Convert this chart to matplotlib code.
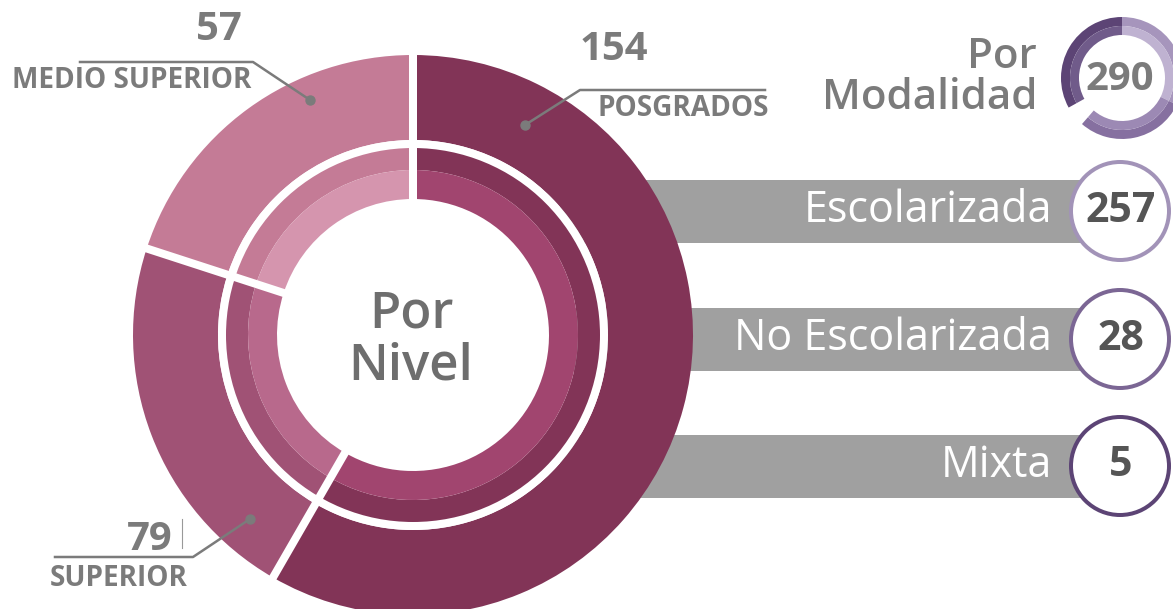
import matplotlib.pyplot as plt
from matplotlib.patches import Circle, Rectangle
import numpy as np

W, H = 1173, 609
plt.rcParams['font.family'] = ['Open Sans', 'DejaVu Sans']

# por nivel
niveles = ['POSGRADOS', 'SUPERIOR', 'MEDIO SUPERIOR']
alumnos = [154, 79, 57]
grados = [210, 78, 72]  # abertura de cada rebanada tal como se ve
color_fuera = ['#823457', '#a05275', '#c47b96']
color_dentro = ['#a1456f', '#b8698c', '#d595ae']

# por modalidad
modalidades = ['Escolarizada', 'No Escolarizada', 'Mixta']
cantidades = [257, 28, 5]
total = 290
color_mod = ['#a293b8', '#7b6694', '#5c4475']
anillo = [116, 105, 20, 119]
anillo_fuera = ['#a695bc', '#8670a0', 'none', '#5c4475']
anillo_dentro = ['#bfb2d1', '#9c89b4', 'none', '#705b8a']

GRIS = '#7b7b7b'


def Y(y):
    return H - y


def pt(px):
    return px * 0.72


def dona(vals, centro, r, ancho, colores):
    ax.pie(vals, center=centro, radius=r, startangle=90, counterclock=False,
           colors=colores, wedgeprops=dict(width=ancho, linewidth=0))


fig = plt.figure(figsize=(W / 100, H / 100), dpi=100)
ax = fig.add_axes([0, 0, 1, 1])

cx, cy = 413, Y(335)

# dona grande
dona(grados, (cx, cy), 280, 85, color_fuera)
dona(grados, (cx, cy), 189, 24, color_fuera)
dona(grados, (cx, cy), 165, 29, color_dentro)

# separadores blancos
ax.add_patch(Circle((cx, cy), 191, fill=False, ec='white', lw=pt(8), zorder=2))
bordes = 90 - np.cumsum([0] + grados[:-1])
for a in np.radians(bordes):
    ax.plot([cx + 130 * np.cos(a), cx + 290 * np.cos(a)],
            [cy + 130 * np.sin(a), cy + 290 * np.sin(a)],
            color='white', lw=pt(8), zorder=2, solid_capstyle='butt')

ax.text(cx - 2, Y(314), 'Por', ha='center', va='center', fontsize=pt(51),
        color='#6e6e6e', fontweight='semibold')
ax.text(cx - 2, Y(366), 'Nivel', ha='center', va='center', fontsize=pt(51),
        color='#6e6e6e', fontweight='semibold')

# etiquetas de la dona
lc = dict(color=GRIS, lw=pt(2.5), zorder=4)
ax.plot([80, 253, 310], [Y(62), Y(62), Y(100)], **lc)
ax.plot([310], [Y(100)], 'o', color=GRIS, ms=pt(9), zorder=4)
ax.text(219, Y(30), str(alumnos[2]), ha='center', va='center', fontsize=pt(40),
        color=GRIS, fontweight='bold')
ax.text(12, Y(81), niveles[2], ha='left', va='center', fontsize=pt(28),
        color=GRIS, fontweight='bold')

ax.plot([525, 580, 765], [Y(125), Y(90), Y(90)], **lc)
ax.plot([525], [Y(125)], 'o', color=GRIS, ms=pt(9), zorder=4)
ax.text(580, Y(50), str(alumnos[0]), ha='left', va='center', fontsize=pt(40),
        color=GRIS, fontweight='bold')
ax.text(598, Y(109), niveles[0], ha='left', va='center', fontsize=pt(28),
        color=GRIS, fontweight='bold')

ax.plot([250, 193, 55], [Y(519), Y(557), Y(557)], **lc)
ax.plot([250], [Y(519)], 'o', color=GRIS, ms=pt(9), zorder=4)
ax.text(172, Y(539), str(alumnos[1]), ha='right', va='center', fontsize=pt(40),
        color=GRIS, fontweight='bold')
ax.plot([182, 182], [Y(519), Y(548)], color='#999999', lw=0.8, zorder=4)
ax.text(50, Y(578), niveles[1], ha='left', va='center', fontsize=pt(28),
        color=GRIS, fontweight='bold')

# barras por modalidad
centros = [211, 339, 466]
for i, yc in enumerate(centros):
    ax.add_patch(Rectangle((560, Y(yc) - 31.5), 560, 63, fc='#a0a0a0',
                           ec='none', zorder=0))
    ax.add_patch(Circle((1120, Y(yc)), 49, fc='white', ec=color_mod[i],
                        lw=pt(4), zorder=3))
    ax.text(1052, Y(yc), modalidades[i], ha='right', va='center',
            fontsize=pt(43), color='white', zorder=4)
    ax.text(1121, Y(yc), str(cantidades[i]), ha='center', va='center',
            fontsize=pt(41), color='#555555', fontweight='bold', zorder=4)

# anillo del total
mx, my = 1122, Y(78)
dona(anillo, (mx, my), 61, 9, anillo_fuera)
dona(anillo, (mx, my), 52, 9, anillo_dentro)
ax.text(mx - 2, Y(80), str(total), ha='center', va='center', fontsize=pt(40),
        color=GRIS, fontweight='bold')
ax.text(1037, Y(57), 'Por', ha='right', va='center', fontsize=pt(42),
        color=GRIS, fontweight='semibold')
ax.text(1037, Y(98), 'Modalidad', ha='right', va='center', fontsize=pt(42),
        color=GRIS, fontweight='semibold')

ax.set_xlim(0, W)
ax.set_ylim(0, H)
ax.set_aspect('equal')
ax.axis('off')

fig.savefig('out.png', dpi=100)
